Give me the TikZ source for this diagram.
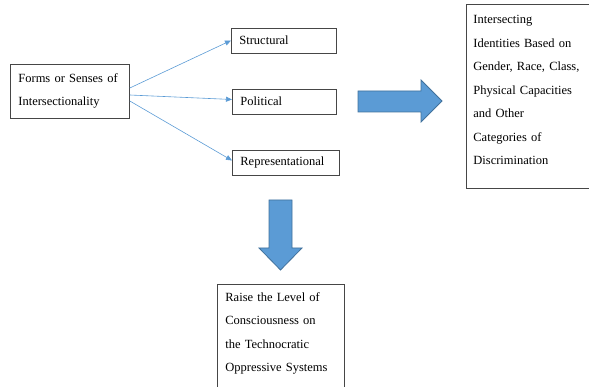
\documentclass[tikz,border=0pt]{standalone}
\usepackage{fontspec}
\setmainfont{Liberation Serif}
\usepackage{tikz}
\usetikzlibrary{positioning,calc,arrows.meta}
\definecolor{linkblue}{RGB}{91,155,213}
\definecolor{arrowfill}{RGB}{91,155,213}
\definecolor{arrowedge}{RGB}{65,113,156}
\definecolor{boxframe}{RGB}{70,70,70}

\begin{document}
\begin{tikzpicture}[
  x=1pt, y=-1pt,
  font=\fontsize{12.5}{23.5}\selectfont,
  box/.style={rectangle, draw=boxframe, line width=0.8pt, align=left, inner ysep=0pt},
  sense/.style={box, anchor=west, minimum height=25pt, inner xsep=8pt},
  link/.style={-{Triangle[length=6pt,width=5pt]}, draw=linkblue, line width=0.6pt},
  blockarrow/.style={fill=arrowfill, draw=arrowedge, line width=0.8pt, line join=miter}
]
\useasboundingbox (0,0) rectangle (589,387);

% Left: source box
\node[box, anchor=west, minimum width=119pt, minimum height=54pt, text width=103pt, inner xsep=8pt]
  (forms) at (10,91) {Forms or Senses of\\Intersectionality};

% Middle column: the three senses
\node[sense, minimum width=105pt, text width=89pt] (struct) at (231,40.5) {Structural};
\node[sense, minimum width=104pt, text width=88pt] (polit) at (232,101.5) {Political};
\node[sense, minimum width=107pt, text width=91pt] (repr) at (232,162.5) {Representational};

\draw[link] ([yshift=3pt]forms.east) -- (struct.west);
\draw[link] ([yshift=-4pt]forms.east) -- ([yshift=2pt]polit.west);
\draw[link] ([yshift=-10pt]forms.east) -- ([yshift=2pt]repr.west);

% Right: result box (open at the page edge)
\node[box, anchor=north west, text width=120pt, inner xsep=7pt, inner ysep=11pt, text depth=154pt]
  (ident) at (466,4) {Intersecting\\Identities Based on\\Gender, Race, Class,\\Physical Capacities\\and Other\\Categories of\\Discrimination};

% Bottom: result box (open at the page edge)
\node[box, anchor=north west, text width=111pt, inner xsep=8pt, inner ysep=8pt, text depth=90pt]
  (raise) at (217,284) {Raise the Level of\\Consciousness on\\the Technocratic\\Oppressive Systems};

% Block arrows
\draw[blockarrow] (358,91) -- (421,91) -- (421,80) -- (442,101) -- (421,122) -- (421,112) -- (358,112) -- cycle;
\draw[blockarrow] (269,200) -- (292,200) -- (292,248) -- (302,248) -- (280.5,270) -- (259,248) -- (269,248) -- cycle;
\end{tikzpicture}
\end{document}
